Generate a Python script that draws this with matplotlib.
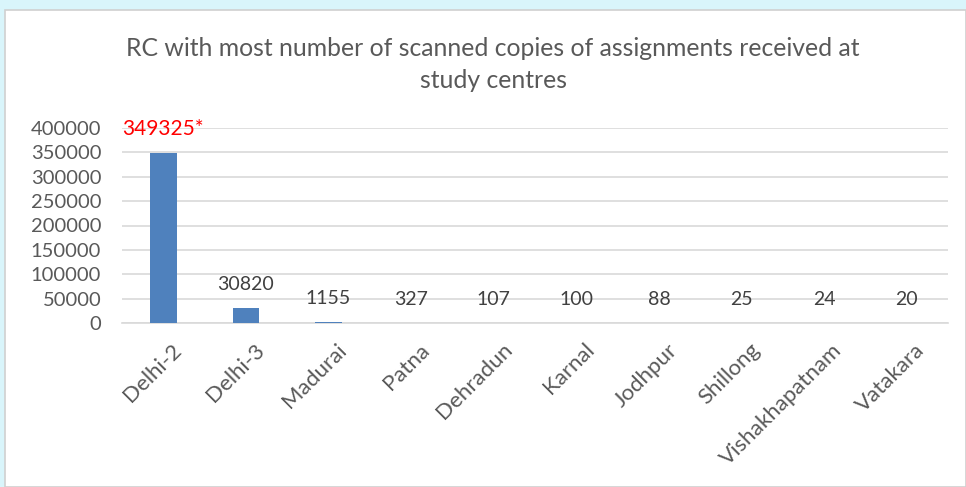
import matplotlib.pyplot as plt
from matplotlib.patches import Rectangle
from matplotlib.transforms import ScaledTranslation

centres = ["Delhi-2", "Delhi-3", "Madurai", "Patna", "Dehradun", "Karnal",
           "Jodhpur", "Shillong", "Vishakhapatnam", "Vatakara"]
copies = [349325, 30820, 1155, 327, 107, 100, 88, 25, 24, 20]
value_labels = ["349325*", "30820", "1155", "327", "107", "100", "88", "25", "24", "20"]
yticks = list(range(0, 400001, 50000))

plt.rcParams['font.family'] = ['Lato', 'DejaVu Sans']
txt = '#595959'

W, H = 966, 487
fig = plt.figure(figsize=(W / 100, H / 100), dpi=100, facecolor='#d9f5fb')
# white chart card behind everything
fig.patches.append(Rectangle((5 / W, 0), 1 - 5 / W, 1 - 10 / H, transform=fig.transFigure,
                             facecolor='white', edgecolor='#d0d0d0', lw=1.2, zorder=-5))

ax = fig.add_axes([122 / W, 1 - 323 / H, (948 - 122) / W, (323 - 128) / H])
ax.set_facecolor('none')
x = range(len(centres))
ax.bar(x, copies, width=0.32, color='#4f81bd', zorder=3)
ax.set_ylim(0, 400000)
ax.set_xlim(-0.5, len(centres) - 0.5)
ax.set_yticks(yticks)
ax.set_yticklabels([str(v) for v in yticks], fontsize=14.5, color=txt)
ax.grid(axis='y', color='#d9d9d9', lw=1.2, zorder=0)
ax.tick_params(axis='y', length=0, pad=15)
for s in ['top', 'right', 'left']:
    ax.spines[s].set_visible(False)
ax.spines['bottom'].set_color('#d9d9d9')
ax.spines['bottom'].set_linewidth(1.2)

ax.set_xticks(list(x))
ax.set_xticklabels(centres, rotation=45, ha='right', va='top', rotation_mode='anchor',
                   fontsize=16, color=txt)
ax.tick_params(axis='x', length=0, pad=12)
shift = ScaledTranslation(8 / 100, 0, fig.dpi_scale_trans)
for lab in ax.get_xticklabels():
    lab.set_transform(lab.get_transform() + shift)

for i, (v, lab) in enumerate(zip(copies, value_labels)):
    if i == 0:
        ax.annotate(lab, (i, v), xytext=(0, 10), textcoords='offset points',
                    ha='center', va='bottom', fontsize=15, color='red')
    else:
        ax.annotate(lab, (i, v), xytext=(0, 11), textcoords='offset points',
                    ha='center', va='bottom', fontsize=14, color='#404040')

fig.text(493 / W, 1 - 48 / H, "RC with most number of scanned copies of assignments received at",
         ha='center', va='center', fontsize=17.8, color=txt)
fig.text(493 / W, 1 - 81 / H, "study centres", ha='center', va='center', fontsize=17.8, color=txt)

fig.savefig('out.png', dpi=100, facecolor=fig.get_facecolor())
